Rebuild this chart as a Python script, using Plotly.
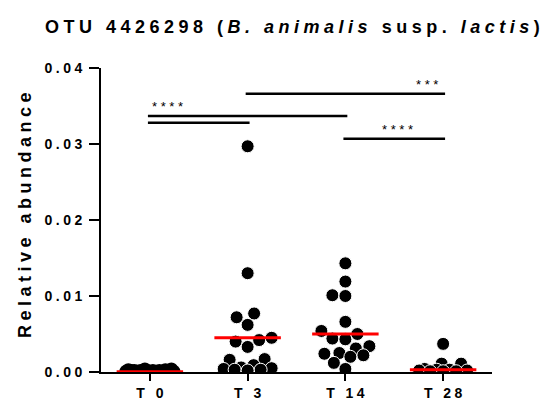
import numpy as np
import plotly.graph_objects as go

# ---------------- data ----------------
categories = ["T 0", "T 3", "T 14", "T 28"]
t0_values = [0.0004, 0.0003, 0.0002, 0.0002, 0.0001, 0.0001, 0.0001, 0.0002, 0.0001,
             0.0002, 0.0001, 0.0003, 0.0002, 0.0001, 0.0004, 0.0002, 0.0001, 0.0002]
t3_values = [0.0297, 0.0130, 0.0077, 0.0072, 0.0062, 0.0045, 0.0042, 0.0040, 0.0033,
             0.0017, 0.0016, 0.0009, 0.0006, 0.0005, 0.0004, 0.0003, 0.0003, 0.0002]
t14_values = [0.0143, 0.0119, 0.0101, 0.0100, 0.0066, 0.0054, 0.0050, 0.0044, 0.0043,
              0.0034, 0.0031, 0.0025, 0.0024, 0.0022, 0.0020, 0.0012, 0.0004]
t28_values = [0.0037, 0.0011, 0.0011, 0.0004, 0.0003, 0.0003, 0.0002, 0.0002, 0.0001,
              0.0001, 0.0001]
group_means = [0.00002, 0.0045, 0.0050, 0.0003]

y_tick_values = [0.00, 0.01, 0.02, 0.03, 0.04]
y_tick_labels = ["0.00", "0.01", "0.02", "0.03", "0.04"]

sig_pairs = [(1, 3), (0, 2), (0, 1), (2, 3)]
sig_heights = [0.0366, 0.0337, 0.0328, 0.0307]
sig_labels = ["***", "****", "", "****"]
sig_label_frac = [0.92, 0.09, 0.5, 0.53]

groups = [t0_values, t3_values, t14_values, t28_values]

# ---------------- layout geometry (page pixels; body has 8px margin) ----------------
OFF = 8
PAGE_W, PAGE_H = 550, 405
W, H = PAGE_W - OFF, PAGE_H - OFF
plot_left, plot_right, plot_top, plot_bottom = 101, 492, 68, 372
L = plot_left - OFF
T = plot_top - OFF
plot_w = plot_right - plot_left
plot_h = plot_bottom - plot_top
R = W - L - plot_w
B = H - T - plot_h
y_range = [0, 0.04]
x_range = [-0.5, 3.5]
px_per_y = plot_h / (y_range[1] - y_range[0])
px_per_x = plot_w / (x_range[1] - x_range[0])

DOT = 13.0
CAP = 24.0
SEP = "\u2005"
NBSP = "\u00a0"


def spaced(s, sep=SEP):
    return sep.join(list(s))


def swarm_offsets(values):
    """Simple beeswarm: place points as close to centre as possible without
    overlap, limited to a maximum half-width; otherwise minimise overlap."""
    order = np.argsort(values)
    placed = []
    offs = np.zeros(len(values))
    cands = np.arange(-CAP, CAP + 0.25, 0.5)
    for idx in order:
        ypx = values[idx] * px_per_y
        if not placed:
            offs[idx] = 0.0
            placed.append((0.0, ypx))
            continue
        px = np.array([p[0] for p in placed])
        py = np.array([p[1] for p in placed])
        dmin = np.array([np.min(np.hypot(px - c, py - ypx)) for c in cands])
        ok = dmin >= DOT
        if ok.any():
            c = cands[ok][np.argmin(np.abs(cands[ok]))]
        else:
            best = dmin.max()
            sel = cands[dmin >= best - 1e-9]
            c = sel[np.argmin(np.abs(sel))]
        offs[idx] = c
        placed.append((c, ypx))
    return offs


fig = go.Figure()

for i, vals in enumerate(groups):
    vals = np.array(vals)
    offs = swarm_offsets(vals)
    fig.add_trace(go.Scatter(
        x=i + offs / px_per_x, y=vals, mode="markers",
        marker=dict(size=DOT, color="black",
                    line=dict(color="white", width=0 if i == 0 else 1)),
        showlegend=False, hoverinfo="skip"))

# mean lines
for i, m in enumerate(group_means):
    fig.add_trace(go.Scatter(
        x=[i - 0.34, i + 0.34], y=[m, m], mode="lines",
        line=dict(color="#ff0000", width=3), cliponaxis=False,
        showlegend=False, hoverinfo="skip"))

# significance bars
annotations = []
for (a, b), h, lab, f in zip(sig_pairs, sig_heights, sig_labels, sig_label_frac):
    fig.add_trace(go.Scatter(
        x=[a - 0.02, b + 0.02], y=[h, h], mode="lines",
        line=dict(color="black", width=2.5),
        showlegend=False, hoverinfo="skip"))
    if lab:
        annotations.append(dict(
            x=a + (b - a) * f, y=h, xref="x", yref="y",
            text=" ".join(list(lab)), showarrow=False, yanchor="bottom",
            font=dict(family="Liberation Sans", size=13, color="black")))

title_text = (spaced("OTU 4426298 (") + SEP + "<i>" + spaced("B. animalis") + "</i>" + SEP +
              spaced(" susp. ") + SEP + "<i>" + spaced("lactis") + "</i>" + SEP + ")")
title_cx, title_cy = 292, 27
annotations.append(dict(
    x=(title_cx - plot_left) / plot_w, y=(plot_bottom - title_cy) / plot_h,
    xref="paper", yref="paper", text="<b>" + title_text + "</b>",
    showarrow=False, xanchor="center", yanchor="middle",
    font=dict(family="Liberation Sans", size=18, color="black")))
ytitle_cx, ytitle_cy = 25, 215
annotations.append(dict(
    x=(ytitle_cx - plot_left) / plot_w, y=(plot_bottom - ytitle_cy) / plot_h,
    xref="paper", yref="paper",
    text="<b>" + spaced("Relative abundance") + "</b>", textangle=-90, showarrow=False,
    xanchor="center", yanchor="middle",
    font=dict(family="Liberation Sans", size=18, color="black")))

fig.update_layout(
    width=W, height=H,
    margin=dict(l=L, r=R, t=T, b=B, pad=0, autoexpand=False),
    paper_bgcolor="white", plot_bgcolor="white",
    annotations=annotations,
    xaxis=dict(range=x_range, tickvals=list(range(len(categories))),
               ticktext=["<b>" + spaced(c) + "</b>" for c in categories],
               showgrid=False, zeroline=False, showline=True, linecolor="black", linewidth=2,
               ticks="outside", ticklen=7, tickwidth=2, tickcolor="black",
               tickfont=dict(family="Liberation Sans", size=14, color="black"),
               layer="below traces", automargin=False),
    yaxis=dict(range=y_range, tickvals=y_tick_values,
               ticktext=["<b>" + spaced(t) + NBSP + "</b>" for t in y_tick_labels],
               showgrid=False, zeroline=False, showline=True, linecolor="black", linewidth=2,
               ticks="outside", ticklen=10, tickwidth=2, tickcolor="black",
               tickfont=dict(family="Liberation Sans", size=14, color="black"),
               automargin=False),
)

fig.write_html("out.html")
